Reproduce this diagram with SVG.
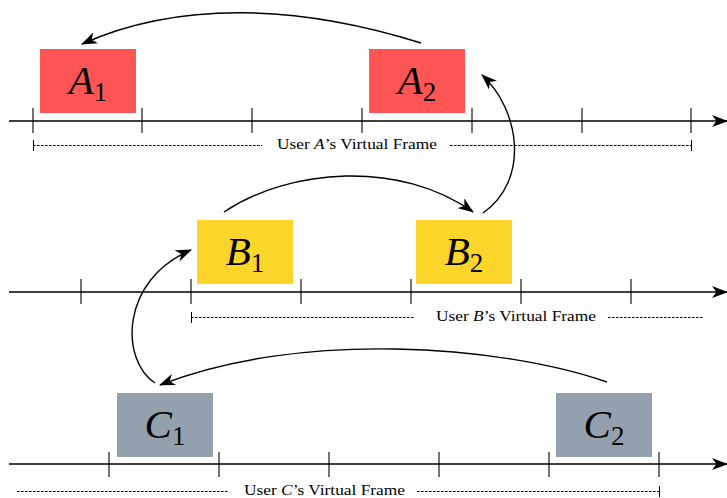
<svg xmlns="http://www.w3.org/2000/svg" width="727" height="498" viewBox="0 0 727 498">
<style>
.axis{stroke:#000;stroke-width:1.4;fill:none}
.tick{stroke:#000;stroke-width:1.1}
.dash{stroke:#000;stroke-width:1;stroke-dasharray:2.6 1.4;fill:none}
.bar{stroke:#000;stroke-width:1}
.conn{stroke:#000;stroke-width:1.4;fill:none}
.red{fill:#FF5555}
.yel{fill:#FDD42A}
.gry{fill:#95A0AE}
.lbl{font-family:"Liberation Serif","Times New Roman",serif;font-size:41px;fill:#000}
.lbl .v{font-style:italic}
.lbl .s{font-size:27px}
.fr{font-family:"Liberation Serif","Times New Roman",serif;font-size:14px;fill:#000}
.fr .v{font-style:italic}
</style>
<defs>
<marker id="ah" viewBox="0 0 16 12" refX="15" refY="6" markerWidth="16" markerHeight="12" markerUnits="userSpaceOnUse" orient="auto">
<path d="M0,0 L16,6 L0,12 L4.5,6 Z" fill="#000"/>
</marker>
</defs>
<rect width="727" height="498" fill="#fff"/>

<g id="timeline-A">
<line class="axis" x1="9" y1="121" x2="727" y2="121" marker-end="url(#ah)"/>
<g class="tick">
<line x1="33" y1="108" x2="33" y2="133"/><line x1="142" y1="108" x2="142" y2="133"/><line x1="252" y1="108" x2="252" y2="133"/><line x1="362" y1="108" x2="362" y2="133"/><line x1="472" y1="108" x2="472" y2="133"/><line x1="582" y1="108" x2="582" y2="133"/><line x1="691" y1="108" x2="691" y2="133"/>
</g>
<line class="bar" x1="33.5" y1="140" x2="33.5" y2="151"/>
<line class="dash" x1="33" y1="145.5" x2="262" y2="145.5"/>
<line class="dash" x1="450" y1="145.5" x2="691" y2="145.5"/>
<line class="bar" x1="691.5" y1="140" x2="691.5" y2="151"/>
<text class="fr" x="277" y="149" textLength="160" lengthAdjust="spacingAndGlyphs">User <tspan class="v">A</tspan>’s Virtual Frame</text>
</g>

<g id="timeline-B">
<line class="axis" x1="9" y1="292" x2="727" y2="292" marker-end="url(#ah)"/>
<g class="tick">
<line x1="81" y1="279" x2="81" y2="304"/><line x1="191" y1="279" x2="191" y2="304"/><line x1="301" y1="279" x2="301" y2="304"/><line x1="411" y1="279" x2="411" y2="304"/><line x1="521" y1="279" x2="521" y2="304"/><line x1="631" y1="279" x2="631" y2="304"/>
</g>
<line class="bar" x1="191.5" y1="312" x2="191.5" y2="323"/>
<line class="dash" x1="191" y1="317.5" x2="415" y2="317.5"/>
<line class="dash" x1="608" y1="317.5" x2="703" y2="317.5"/>
<text class="fr" x="436" y="321" textLength="160" lengthAdjust="spacingAndGlyphs">User <tspan class="v">B</tspan>’s Virtual Frame</text>
</g>

<g id="timeline-C">
<line class="axis" x1="9" y1="464" x2="727" y2="464" marker-end="url(#ah)"/>
<g class="tick">
<line x1="109" y1="452" x2="109" y2="477"/><line x1="219" y1="452" x2="219" y2="477"/><line x1="329" y1="452" x2="329" y2="477"/><line x1="439" y1="452" x2="439" y2="477"/><line x1="549" y1="452" x2="549" y2="477"/><line x1="659" y1="452" x2="659" y2="477"/>
</g>
<line class="dash" x1="17" y1="491.5" x2="228" y2="491.5"/>
<line class="dash" x1="417" y1="491.5" x2="659" y2="491.5"/>
<line class="bar" x1="659.5" y1="486" x2="659.5" y2="497"/>
<text class="fr" x="244" y="495" textLength="161" lengthAdjust="spacingAndGlyphs">User <tspan class="v">C</tspan>’s Virtual Frame</text>
</g>

<g id="A1"><rect class="red" x="40" y="49" width="96" height="64"/><text class="lbl" x="88" y="94" text-anchor="middle"><tspan class="v">A</tspan><tspan class="s" dy="7">1</tspan></text></g>
<g id="A2"><rect class="red" x="369" y="49" width="96" height="64"/><text class="lbl" x="417" y="94" text-anchor="middle"><tspan class="v">A</tspan><tspan class="s" dy="7">2</tspan></text></g>
<g id="B1"><rect class="yel" x="197" y="220" width="96" height="64"/><text class="lbl" x="245" y="265" text-anchor="middle"><tspan class="v">B</tspan><tspan class="s" dy="7">1</tspan></text></g>
<g id="B2"><rect class="yel" x="416" y="220" width="96" height="64"/><text class="lbl" x="464" y="265" text-anchor="middle"><tspan class="v">B</tspan><tspan class="s" dy="7">2</tspan></text></g>
<g id="C1"><rect class="gry" x="117" y="393" width="96" height="64"/><text class="lbl" x="165" y="438" text-anchor="middle"><tspan class="v">C</tspan><tspan class="s" dy="7">1</tspan></text></g>
<g id="C2"><rect class="gry" x="556" y="393" width="96" height="64"/><text class="lbl" x="604" y="438" text-anchor="middle"><tspan class="v">C</tspan><tspan class="s" dy="7">2</tspan></text></g>

<g id="connectors">
<path class="conn" d="M421,43 C300,5 180,0 82,44" marker-end="url(#ah)"/>
<path class="conn" d="M224,212 C290,168 400,160 473,212" marker-end="url(#ah)"/>
<path class="conn" d="M483,213 C530,180 520,110 482,75" marker-end="url(#ah)"/>
<path class="conn" d="M155,383 C120,360 120,280 191,250" marker-end="url(#ah)"/>
<path class="conn" d="M607,382 C500,345 300,330 160,385" marker-end="url(#ah)"/>
</g>
</svg>
